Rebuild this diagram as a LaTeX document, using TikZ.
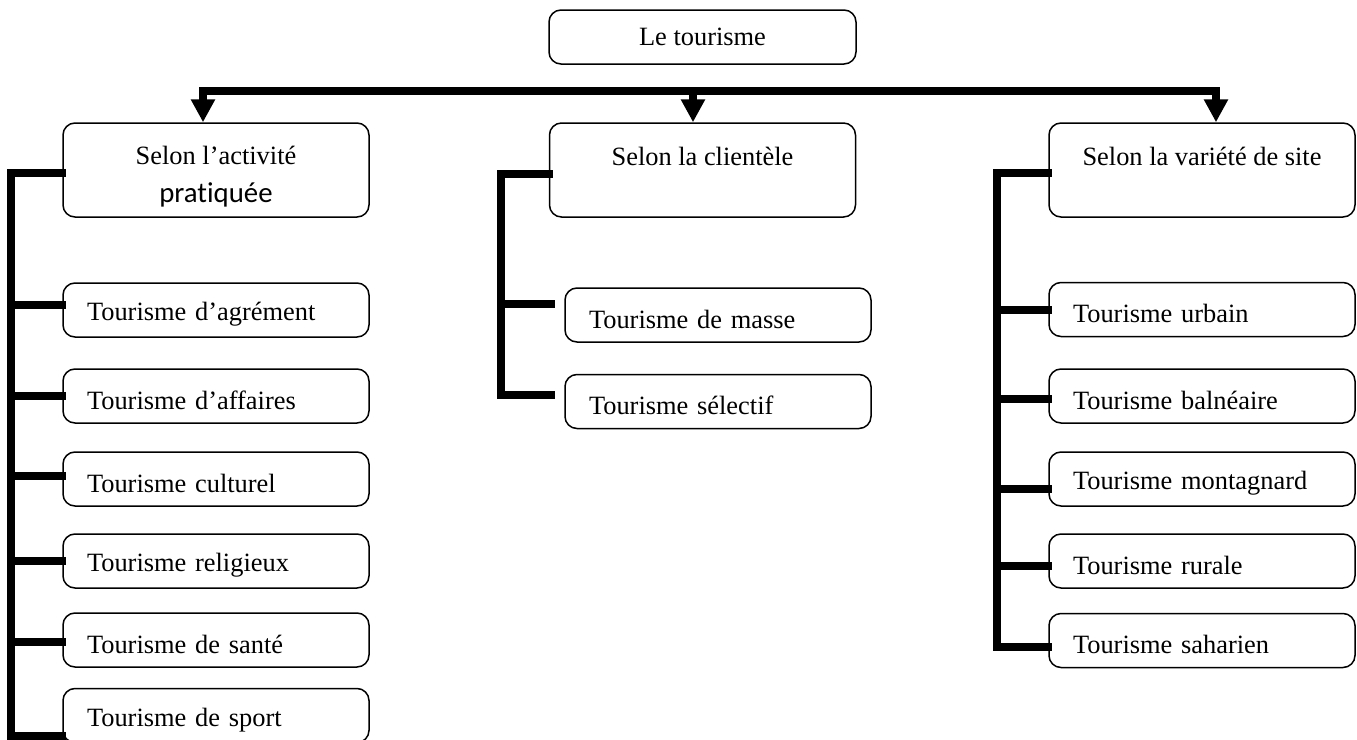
\documentclass[tikz,border=0pt]{standalone}
\usepackage{fontspec}
\setmainfont{Liberation Serif}
\newfontfamily\calibrifont[Ligatures=NoCommon]{Carlito}
\usetikzlibrary{arrows.meta}
\begin{document}
\begin{tikzpicture}[x=0.5pt,y=-0.5pt,
  every node/.style={font=\fontsize{13.2pt}{19pt}\selectfont},
  boxbase/.style={draw, line width=0.75pt, rounded corners=6pt, inner sep=0pt},
  tbox/.style={boxbase, minimum width=153.5pt, minimum height=27pt},
  selbox/.style={boxbase, minimum width=153pt, minimum height=47pt, align=center},
  subbox/.style={boxbase, text width=129pt, inner xsep=12pt, align=left, minimum height=27pt,
    execute at begin node={\rule{0pt}{13.5pt}}},
  conn/.style={line width=4pt, line join=miter, line cap=rect},
  arr/.style={line width=4pt, -{Triangle[width=11.5pt,length=11.5pt]}}]
\useasboundingbox (0,0) rectangle (1357,740);
\clip (0,0) rectangle (1357,740);

% top
\node[tbox] (top) at (702.5,37) {Le tourisme};

% category boxes
\node[selbox] (lsel) at (216,170) {\rule{0pt}{15.5pt}Selon l’activité\\{\fontsize{14.4pt}{19pt}\calibrifont prat\kern0pt iquée}};
\node[selbox] (msel) at (702.5,170) {\rule{0pt}{20pt}Selon la clientèle\\\strut};
\node[selbox] (rsel) at (1202,170) {\rule{0pt}{20pt}Selon la variété de site\\\strut};

% bar and arrows
\coordinate (bl) at (203,91);
\coordinate (bm) at (693,91);
\coordinate (br) at (1216,91);
\draw[conn] (bl) -- (br);
\draw[arr] (bl) -- (lsel.north -| bl);
\draw[arr] (bm) -- (msel.north -| bm);
\draw[arr] (br) -- (rsel.north -| br);

% left column
\node[subbox] (l1) at (216,310) {Tourisme d’agrément};
\node[subbox] (l2) at (216,396) {Tourisme d’affaires};
\node[subbox] (l3) at (216,479) {Tourisme culturel};
\node[subbox] (l4) at (216,561) {Tourisme religieux};
\node[subbox] (l5) at (216,640) {Tourisme de santé};
\node[subbox] (l6) at (216,715.5) {Tourisme de sport};

\coordinate (lt) at (11,173);
\coordinate (lb) at (11,736);
\draw[conn] ([yshift=-1.5pt]lsel.west) -- (lt) -- (lb) -- (l6.west |- lb);
\draw[conn] ([yshift=2.5pt]l1.west) -- ([yshift=2.5pt]l1.west -| lt);
\draw[conn] (l2.west) -- (l2.west -| lt);
\draw[conn] ([yshift=1.5pt]l3.west) -- ([yshift=1.5pt]l3.west -| lt);
\draw[conn] (l4.west) -- (l4.west -| lt);
\draw[conn] ([yshift=-1pt]l5.west) -- ([yshift=-1pt]l5.west -| lt);

% middle column
\node[subbox] (m1) at (718,315) {Tourisme de masse};
\node[subbox] (m2) at (718,401.5) {Tourisme sélectif};

\coordinate (mt) at (501,174);
\coordinate (mb) at (501,395);
\coordinate (mb2) at (551,395);
\draw[conn] ([yshift=-2pt]msel.west) -- (mt) -- (mb) -- (mb2);
\coordinate (m1t) at (551,304);
\draw[conn] (m1t) -- (m1t -| mt);

% right column
\node[subbox] (r1) at (1202,309.5) {Tourisme urbain};
\node[subbox] (r2) at (1202,396) {Tourisme balnéaire};
\node[subbox] (r3) at (1202,479) {Tourisme montagnard};
\node[subbox] (r4) at (1202,561) {Tourisme rurale};
\node[subbox] (r5) at (1202,640.5) {Tourisme saharien};

\coordinate (rt) at (997,173);
\coordinate (rb) at (997,647);
\draw[conn] ([yshift=-1.5pt]rsel.west) -- (rt) -- (rb) -- (r5.west |- rb);
\draw[conn] (r1.west) -- (r1.west -| rt);
\draw[conn] ([yshift=-1.5pt]r2.west) -- ([yshift=-1.5pt]r2.west -| rt);
\draw[conn] ([yshift=-5pt]r3.west) -- ([yshift=-5pt]r3.west -| rt);
\draw[conn] ([yshift=-2.5pt]r4.west) -- ([yshift=-2.5pt]r4.west -| rt);
\end{tikzpicture}
\end{document}
